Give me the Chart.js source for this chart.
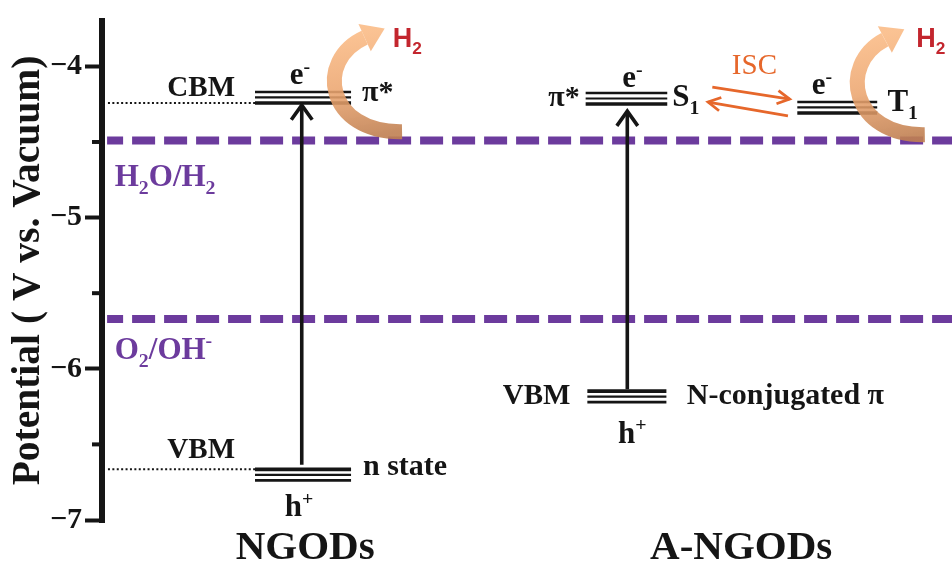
<!DOCTYPE html>
<html><head><meta charset="utf-8">
<script src="https://cdn.jsdelivr.net/npm/chart.js@4/dist/chart.umd.min.js"></script>
<style>html,body{margin:0;padding:0;background:#fff}#wrap{width:952px;height:569px;position:relative}</style>
</head><body><div id="wrap"><canvas id="c"></canvas></div>
<script>
// ---------------- data (potentials in V vs. vacuum) ----------------
const systems = ['NGODs', 'A-NGODs'];
const yTickValues = [-7, -6, -5, -4];
const yMinorTicks = [-6.5, -5.5, -4.5];
const redoxLabels = ['H2O/H2', 'O2/OH-'];
const redoxPotentials = [-4.49, -5.67];
const levelNames = ['NGODs CBM (π*)', 'NGODs VBM (n state)', 'A-NGODs S1 (π*)', 'A-NGODs T1', 'A-NGODs VBM (N-conjugated π)'];
const levelEnergies = [-4.242, -6.665, -4.249, -4.308, -6.148];
const guideLevels = [-4.242, -6.665];            // CBM / VBM of NGODs marked on the axis
const excitationFrom = [-6.635, -6.135];          // h+ level (arrow foot)
const excitationTo = [-4.25, -4.29];              // e- level (arrow tip)
const iscFrom = [-4.138, -4.327];
const iscTo = [-4.216, -4.236];

// ---------------- layout (x positions on a 0–100 schematic axis) ----------------
const layout = {
  levelX: [[18.0, 29.3], [18.0, 29.3], [56.9, 66.5], [81.8, 91.2], [57.1, 66.4]],
  levelStack: [-1, 1, -1, -1, 1],
  guideX: [0.7, 18.0],
  redoxX: [0.6, 100],
  excitationX: [23.5, 61.8],
  iscX: [[71.8, 80.9], [80.7, 71.3]],
  curved: [
    [[35.3, -4.432], [26.4, -4.44], [25.0, -3.96], [30.9, -3.810]],
    [[96.8, -4.452], [88.2, -4.46], [86.5, -3.99], [92.1, -3.823]]
  ]
};

const SERIF = '"Liberation Serif", "Times New Roman", serif';
const SANS = '"Liberation Sans", Arial, sans-serif';
const BLACK = '#151515', PURPLE = '#6c3b9d', ORANGE = '#e6672b', RED = '#c3262e';

// label: parts [text, mode], x, y, align, size, weight, family, color
const labels = [
  [[['CBM','']], 15.65, -4.196, 'right', 29, 'bold', SERIF, BLACK],
  [[['e',''],['-','sup']], 22.1, -4.118, 'left', 31, 'bold', SERIF, BLACK],
  [[['π*','']], 30.6, -4.229, 'left', 30, 'bold', SERIF, BLACK],
  [[['H',''],['2','sub']], 34.2, -3.869, 'left', 27, 'bold', SANS, RED],
  [[['H',''],['2','sub'],['O/H',''],['2','sub']], 1.5, -4.792, 'left', 31, 'bold', SERIF, PURPLE],
  [[['O',''],['2','sub'],['/OH',''],['-','sup']], 1.5, -5.932, 'left', 31, 'bold', SERIF, PURPLE],
  [[['VBM','']], 15.65, -6.587, 'right', 29, 'bold', SERIF, BLACK],
  [[['n state','']], 30.7, -6.705, 'left', 30, 'bold', SERIF, BLACK],
  [[['h',''],['+','sup']], 21.5, -6.973, 'left', 31, 'bold', SERIF, BLACK],
  [[[systems[0],'']], 23.9, -7.261, 'center', 41, 'bold', SERIF, BLACK],
  [[['π*','']], 56.2, -4.262, 'right', 30, 'bold', SERIF, BLACK],
  [[['e',''],['-','sup']], 61.2, -4.138, 'left', 31, 'bold', SERIF, BLACK],
  [[['S',''],['1','sub']], 67.1, -4.262, 'left', 31, 'bold', SERIF, BLACK],
  [[['ISC','']], 74.1, -4.052, 'left', 29, 'normal', SERIF, ORANGE],
  [[['e',''],['-','sup']], 83.5, -4.183, 'left', 31, 'bold', SERIF, BLACK],
  [[['T',''],['1','sub']], 92.4, -4.295, 'left', 31, 'bold', SERIF, BLACK],
  [[['H',''],['2','sub']], 95.8, -3.869, 'left', 27, 'bold', SANS, RED],
  [[['VBM','']], 55.1, -6.233, 'right', 29, 'bold', SERIF, BLACK],
  [[['N-conjugated π','']], 68.8, -6.233, 'left', 30, 'bold', SERIF, BLACK],
  [[['h',''],['+','sup']], 60.7, -6.488, 'left', 31, 'bold', SERIF, BLACK],
  [[[systems[1],'']], 75.2, -7.261, 'center', 41, 'bold', SERIF, BLACK]
];

function drawRich(ctx, parts, x, y, align, size, weight, family, color) {
  const segs = parts.map(([t, m]) => {
    const s = m ? size * 0.64 : size;
    ctx.font = `${weight} ${s}px ${family}`;
    return { t, m, s, w: ctx.measureText(t).width };
  });
  const total = segs.reduce((a, s) => a + s.w, 0);
  let cx = align === 'right' ? x - total : align === 'center' ? x - total / 2 : x;
  ctx.fillStyle = color; ctx.textBaseline = 'alphabetic'; ctx.textAlign = 'left';
  for (const s of segs) {
    ctx.font = `${weight} ${s.s}px ${family}`;
    const dy = s.m === 'sub' ? size * 0.27 : s.m === 'sup' ? -size * 0.36 : 0;
    ctx.fillText(s.t, cx, y + dy);
    cx += s.w;
  }
}

function chevron(ctx, tx, ty, dx, dy, len, spread) {
  const a = Math.atan2(dy, dx);
  ctx.beginPath();
  ctx.moveTo(tx - len * Math.cos(a - spread), ty - len * Math.sin(a - spread));
  ctx.lineTo(tx, ty);
  ctx.lineTo(tx - len * Math.cos(a + spread), ty - len * Math.sin(a + spread));
  ctx.stroke();
}

const diagramPlugin = {
  id: 'diagram',
  afterDatasetsDraw(chart) {
    const ctx = chart.ctx, xs = chart.scales.x, ys = chart.scales.y;
    const X = v => xs.getPixelForValue(v), Y = v => ys.getPixelForValue(v);
    ctx.save();
    // minor ticks + axis foot
    ctx.strokeStyle = BLACK; ctx.lineWidth = 4; ctx.lineCap = 'butt';
    const ax = chart.chartArea.left;
    yMinorTicks.forEach(v => { ctx.beginPath(); ctx.moveTo(ax - 10, Y(v)); ctx.lineTo(ax, Y(v)); ctx.stroke(); });
    ctx.fillStyle = BLACK; ctx.fillRect(ax - 3, chart.chartArea.bottom - 1, 6, 4);
    // energy levels (triple lines)
    const widths = [3.6, 2.2, 2.6];
    levelEnergies.forEach((v, i) => {
      const [a, b] = layout.levelX[i];
      for (let k = 0; k < 3; k++) {
        const py = Y(v) + layout.levelStack[i] * k * 5.5;
        ctx.lineWidth = widths[k];
        ctx.beginPath(); ctx.moveTo(X(a), py); ctx.lineTo(X(b), py); ctx.stroke();
      }
    });
    // excitation arrows
    ctx.lineWidth = 3.6; ctx.lineJoin = 'miter';
    excitationFrom.forEach((v, i) => {
      const px = X(layout.excitationX[i]);
      ctx.beginPath(); ctx.moveTo(px, Y(v)); ctx.lineTo(px, Y(excitationTo[i]) + 1); ctx.stroke();
      chevron(ctx, px, Y(excitationTo[i]) + 1, 0, -1, 18, 0.62);
    });
    // ISC arrows
    ctx.strokeStyle = ORANGE; ctx.lineWidth = 2.8;
    iscFrom.forEach((v, i) => {
      const [a, b] = layout.iscX[i];
      const x1 = X(a), y1 = Y(v), x2 = X(b), y2 = Y(iscTo[i]);
      ctx.beginPath(); ctx.moveTo(x1, y1); ctx.lineTo(x2, y2); ctx.stroke();
      chevron(ctx, x2, y2, x2 - x1, y2 - y1, 14, 0.5);
    });
    // labels
    labels.forEach(l => drawRich(ctx, l[0], X(l[1]), Y(l[2]), l[3], l[4], l[5], l[6], l[7]));
    // curved H2 evolution arrows
    layout.curved.forEach(pts => {
      const p = pts.map(([u, v]) => [X(u), Y(v)]);
      const d0 = [p[3][0] - p[2][0], p[3][1] - p[2][1]];
      const dl = Math.hypot(d0[0], d0[1]);
      const d = [d0[0] / dl, d0[1] / dl], n = [-d[1], d[0]];
      const tip = [p[3][0] + d[0] * 22, p[3][1] + d[1] * 22];
      const g = ctx.createLinearGradient(p[0][0], p[0][1], tip[0], tip[1]);
      g.addColorStop(0, 'rgba(192,128,82,0.9)');
      g.addColorStop(0.5, 'rgba(236,166,112,0.88)');
      g.addColorStop(1, 'rgba(250,186,132,0.88)');
      ctx.strokeStyle = g; ctx.fillStyle = g; ctx.lineWidth = 15; ctx.lineCap = 'butt';
      ctx.beginPath(); ctx.moveTo(p[0][0], p[0][1]);
      ctx.bezierCurveTo(p[1][0], p[1][1], p[2][0], p[2][1], p[3][0], p[3][1]);
      ctx.stroke();
      ctx.beginPath();
      ctx.moveTo(p[3][0] + n[0] * 15, p[3][1] + n[1] * 15);
      ctx.lineTo(tip[0], tip[1]);
      ctx.lineTo(p[3][0] - n[0] * 15, p[3][1] - n[1] * 15);
      ctx.closePath(); ctx.fill();
    });
    ctx.restore();
  }
};

const datasets = [
  ...redoxPotentials.map((v, i) => ({
    label: redoxLabels[i],
    data: [{ x: layout.redoxX[0], y: v }, { x: layout.redoxX[1], y: v }],
    borderColor: PURPLE, borderWidth: 8, borderDash: [23, 9], borderDashOffset: 7,
    borderCapStyle: 'butt', pointRadius: 0
  })),
  ...guideLevels.map((v, i) => ({
    label: 'guide ' + i,
    data: [{ x: layout.guideX[0], y: v }, { x: layout.guideX[1], y: v }],
    borderColor: BLACK, borderWidth: 2, borderDash: [2, 2.4], pointRadius: 0
  }))
];

new Chart(document.getElementById('c'), {
  type: 'line',
  data: { datasets },
  options: {
    responsive: true, maintainAspectRatio: false, animation: false,
    layout: { padding: { left: 0, right: 0, top: 16, bottom: 49 } },
    plugins: { legend: { display: false }, tooltip: { enabled: false } },
    scales: {
      x: { type: 'linear', min: 0, max: 100, display: false },
      y: {
        type: 'linear', min: -7, max: -3.7, position: 'left',
        afterFit: s => { s.width = 102; },
        afterBuildTicks: s => { s.ticks = yTickValues.map(v => ({ value: v })); },
        ticks: { color: BLACK, padding: 3, font: { family: SERIF, size: 30, weight: 'bold' },
          callback: v => String(v).replace('-', '\u2212') },
        grid: { drawOnChartArea: false, drawTicks: true, tickLength: 17, tickWidth: 4, tickColor: BLACK, color: BLACK },
        border: { display: true, width: 6, color: BLACK },
        title: { display: true, text: 'Potential ( V vs. Vacuum)', color: BLACK,
          font: { family: SERIF, size: 39.5, weight: 'bold', lineHeight: 1 }, padding: { top: 9, bottom: 0 } }
      }
    }
  },
  plugins: [diagramPlugin]
});
</script></body></html>
